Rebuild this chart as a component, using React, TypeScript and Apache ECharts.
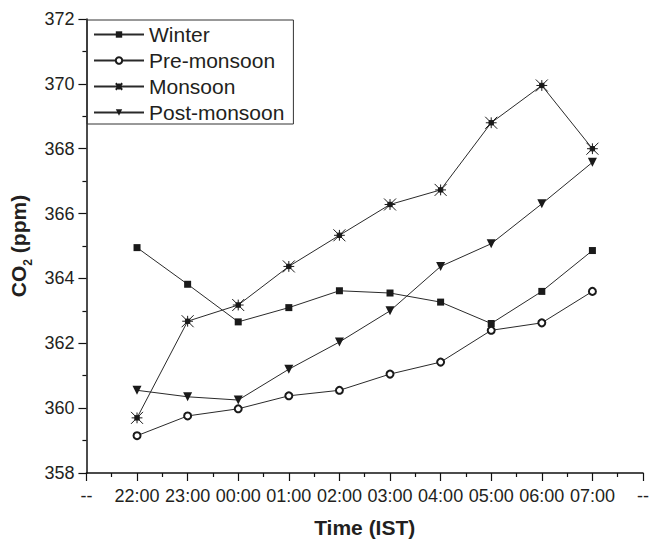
import React, { useEffect, useRef } from "react";
import * as echarts from "echarts";

const xLabels = ["--", "22:00", "23:00", "00:00", "01:00", "02:00", "03:00", "04:00", "05:00", "06:00", "07:00", "--"];
const hours = ["22:00", "23:00", "00:00", "01:00", "02:00", "03:00", "04:00", "05:00", "06:00", "07:00"];
const winter = [364.95, 363.82, 362.66, 363.1, 363.62, 363.55, 363.27, 362.61, 363.6, 364.86];
const preMonsoon = [359.15, 359.76, 359.98, 360.38, 360.55, 361.05, 361.42, 362.4, 362.63, 363.6];
const monsoon = [359.7, 362.68, 363.18, 364.37, 365.33, 366.28, 366.73, 368.8, 369.95, 368.0];
const postMonsoon = [360.55, 360.35, 360.25, 361.2, 362.04, 363.0, 364.37, 365.07, 366.3, 367.58];
const seriesNames = ["Winter", "Pre-monsoon", "Monsoon", "Post-monsoon"];

const FONT = "'Liberation Sans', Arial, sans-serif";
const INK = "#231f20";
const STAR = "path://M0,0L10,10M10,0L0,10M5,0.5L5,9.5M0.5,5L9.5,5M3.2,3.2L6.8,3.2L6.8,6.8L3.2,6.8Z";

const toPoints = (vals: number[]) => hours.map((h, i) => [xLabels.indexOf(h), vals[i]]);

export default function App() {
  const ref = useRef<HTMLDivElement>(null);
  useEffect(() => {
    if (!ref.current) return;
    const chart = echarts.init(ref.current, undefined, { renderer: "svg" });
    const common = {
      type: "line",
      lineStyle: { color: "#2a2a2a", width: 1 },
    };
    chart.setOption({
      animation: false,
      backgroundColor: "#ffffff",
      textStyle: { fontFamily: FONT, color: INK },
      grid: { left: 85, right: 6, top: 19, bottom: 68, containLabel: false },
      legend: {
        data: seriesNames,
        orient: "vertical",
        left: 87,
        top: 20,
        padding: [4, 9, 1, 6],
        borderColor: "#333",
        borderWidth: 1,
        itemWidth: 50,
        itemHeight: 8,
        itemGap: 5,
        textStyle: { fontSize: 21, color: INK, fontFamily: FONT },
      },
      xAxis: {
        type: "value",
        min: 0,
        max: 11,
        interval: 1,
        splitLine: { show: false },
        axisLine: { lineStyle: { color: "#111", width: 1.5 } },
        axisTick: { show: true, inside: false, length: 8, lineStyle: { color: "#111", width: 1.2 } },
        minorTick: { show: true, splitNumber: 2, length: 4, lineStyle: { color: "#111", width: 1.2 } },
        axisLabel: {
          fontSize: 18,
          color: INK,
          margin: 14,
          fontFamily: FONT,
          formatter: (v: number) => xLabels[Math.round(v)] ?? "",
        },
        name: "Time (IST)",
        nameLocation: "middle",
        nameGap: 44,
        nameTextStyle: { fontSize: 21, fontWeight: "bold", color: INK, fontFamily: FONT },
      },
      yAxis: {
        type: "value",
        min: 358,
        max: 372,
        interval: 2,
        splitLine: { show: false },
        axisLine: { show: true, lineStyle: { color: "#111", width: 1.5 } },
        axisTick: { show: true, inside: false, length: 8, lineStyle: { color: "#111", width: 1.2 } },
        minorTick: { show: true, splitNumber: 2, length: 4, lineStyle: { color: "#111", width: 1.2 } },
        axisLabel: { fontSize: 18, color: INK, margin: 12, fontFamily: FONT },
        name: "{a|CO}{s|2}{a| (ppm)}",
        nameLocation: "middle",
        nameGap: 52,
        nameRotate: 90,
        nameTextStyle: {
          color: INK,
          fontFamily: FONT,
          rich: {
            a: { fontSize: 21, fontWeight: "bold", color: INK, fontFamily: FONT, lineHeight: 30 },
            s: { fontSize: 12, fontWeight: "bold", color: INK, fontFamily: FONT, lineHeight: 30, verticalAlign: "bottom" },
          },
        },
      },
      series: [
        {
          ...common,
          name: seriesNames[0],
          data: toPoints(winter),
          symbol: "rect",
          symbolSize: 7,
          itemStyle: { color: "#1a1a1a", borderColor: "#1a1a1a", borderWidth: 0 },
        },
        {
          ...common,
          name: seriesNames[1],
          data: toPoints(preMonsoon),
          symbol: "emptyCircle",
          symbolSize: 7,
          itemStyle: { color: "#1a1a1a", borderColor: "#1a1a1a", borderWidth: 1 },
        },
        {
          ...common,
          name: seriesNames[2],
          data: toPoints(monsoon),
          symbol: STAR,
          symbolSize: 12,
          itemStyle: { color: "#1a1a1a", borderColor: "#1a1a1a", borderWidth: 1 },
        },
        {
          ...common,
          name: seriesNames[3],
          data: toPoints(postMonsoon),
          symbol: "triangle",
          symbolRotate: 180,
          symbolSize: 9,
          itemStyle: { color: "#1a1a1a", borderColor: "#1a1a1a", borderWidth: 0 },
        },
      ],
    });
    return () => chart.dispose();
  }, []);
  return (
    <div
      ref={ref}
      style={{ position: "fixed", left: 0, top: 0, width: 652, height: 543, background: "#fff" }}
    />
  );
}
